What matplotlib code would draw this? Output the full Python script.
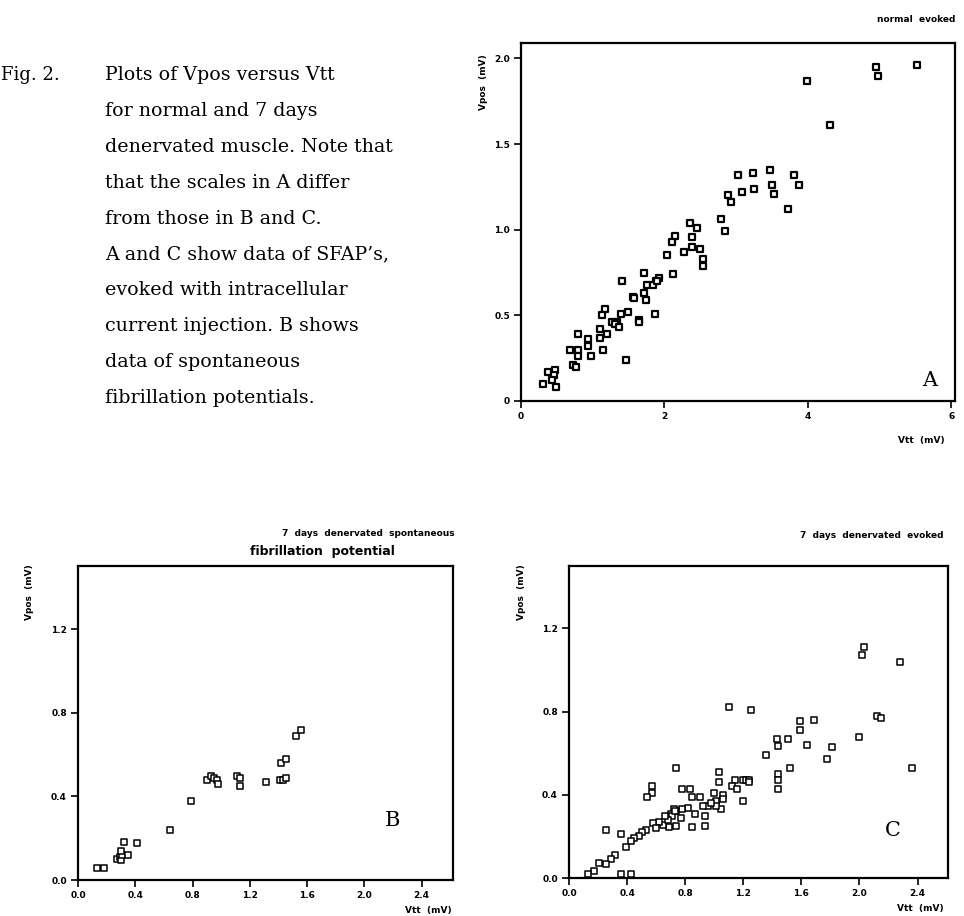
import matplotlib
matplotlib.use('Agg')
import matplotlib.pyplot as plt

# panel A: normal, evoked
vttA = [3.98, 4.31, 4.95, 4.97, 5.52, 3.03, 3.24, 3.47, 3.80, 3.88, 3.50, 3.52, 3.25, 3.08,
        2.88, 2.93, 3.72, 2.79, 2.85, 2.35, 2.45, 2.39, 2.15, 2.11, 2.39, 2.50, 2.04, 2.27,
        2.54, 2.54, 2.12, 1.71, 1.41, 1.76, 1.93, 1.88, 1.84, 1.56, 1.72, 1.74, 1.17, 1.13,
        1.40, 1.49, 1.87, 1.64, 1.65, 1.27, 1.34, 1.31, 1.37, 1.10, 1.20, 1.10, 1.14, 0.80,
        0.94, 0.93, 0.69, 0.79, 0.80, 0.97, 0.73, 0.76, 1.47, 0.38, 0.48, 0.46, 0.43, 0.30,
        0.49, 1.58, 1.90]
vposA = [1.87, 1.61, 1.95, 1.90, 1.96, 1.32, 1.33, 1.35, 1.32, 1.26, 1.26, 1.21, 1.24, 1.22,
         1.20, 1.16, 1.12, 1.06, 0.99, 1.04, 1.01, 0.96, 0.965, 0.93, 0.90, 0.89, 0.85, 0.87,
         0.83, 0.79, 0.74, 0.75, 0.70, 0.68, 0.72, 0.70, 0.68, 0.61, 0.63, 0.59, 0.54, 0.50,
         0.51, 0.52, 0.51, 0.47, 0.46, 0.46, 0.46, 0.45, 0.43, 0.42, 0.39, 0.37, 0.30, 0.39,
         0.36, 0.32, 0.30, 0.30, 0.26, 0.26, 0.21, 0.20, 0.24, 0.17, 0.18, 0.15, 0.12, 0.10,
         0.08, 0.60, 0.70]

# panel B: 7 days denervated, spontaneous fibrillation potential
vttB = [0.13, 0.18, 0.27, 0.29, 0.30, 0.31, 0.30, 0.32, 0.35, 0.41, 0.64, 0.79, 0.90, 0.93,
        0.95, 0.97, 0.98, 1.11, 1.13, 1.13, 1.31, 1.41, 1.43, 1.45, 1.42, 1.45, 1.52, 1.56]
vposB = [0.056, 0.059, 0.10, 0.11, 0.096, 0.12, 0.14, 0.18, 0.12, 0.176, 0.24, 0.38, 0.48, 0.50,
         0.49, 0.48, 0.46, 0.50, 0.49, 0.45, 0.47, 0.48, 0.48, 0.49, 0.56, 0.58, 0.69, 0.72]

# panel C: 7 days denervated, evoked
vttC = [2.03, 2.02, 2.28, 1.10, 1.25, 1.59, 1.69, 1.59, 2.12, 2.15, 2.00, 1.43, 1.51, 1.44,
        1.64, 1.81, 1.36, 1.78, 1.52, 2.36, 0.74, 1.03, 1.44, 1.44, 1.44, 1.03, 1.14, 1.20,
        1.22, 1.24, 1.12, 1.16, 1.20, 1.00, 1.06, 1.06, 1.05, 1.01, 1.01, 0.96, 0.92, 0.90,
        0.85, 0.83, 0.78, 0.87, 0.94, 0.94, 0.85, 0.82, 0.78, 0.74, 0.72, 0.70, 0.71, 0.73,
        0.77, 0.74, 0.69, 0.65, 0.62, 0.58, 0.60, 0.57, 0.57, 0.54, 0.53, 0.50, 0.48, 0.45,
        0.43, 0.39, 0.36, 0.255, 0.32, 0.29, 0.255, 0.21, 0.17, 0.13, 0.36, 0.43, 1.24, 0.68,
        0.66, 0.98]
vposC = [1.11, 1.07, 1.04, 0.82, 0.81, 0.755, 0.76, 0.71, 0.78, 0.77, 0.68, 0.67, 0.67, 0.635,
         0.64, 0.63, 0.59, 0.57, 0.53, 0.53, 0.53, 0.51, 0.50, 0.47, 0.43, 0.46, 0.47, 0.47,
         0.47, 0.47, 0.44, 0.43, 0.37, 0.41, 0.40, 0.38, 0.33, 0.37, 0.345, 0.345, 0.345, 0.39,
         0.39, 0.43, 0.43, 0.31, 0.30, 0.25, 0.245, 0.335, 0.33, 0.32, 0.33, 0.31, 0.30, 0.32,
         0.29, 0.25, 0.245, 0.255, 0.27, 0.265, 0.24, 0.44, 0.41, 0.39, 0.23, 0.22, 0.20, 0.19,
         0.18, 0.15, 0.21, 0.23, 0.11, 0.09, 0.067, 0.07, 0.035, 0.02, 0.02, 0.02, 0.46, 0.28,
         0.30, 0.36]

caption = ["Plots of Vpos versus Vtt",
           "for normal and 7 days",
           "denervated muscle. Note that",
           "that the scales in A differ",
           "from those in B and C.",
           "A and C show data of SFAP\u2019s,",
           "evoked with intracellular",
           "current injection. B shows",
           "data of spontaneous",
           "fibrillation potentials."]

W, H = 964, 916


def fx(px):
    return px / W


def fy(py):
    return 1 - py / H


def panel(fig, box, xs, ys, xlim, ylim, xt, xtl, yt, ytl, msize, mew):
    l, t, r, b = box
    ax = fig.add_axes([fx(l), fy(b), fx(r) - fx(l), fy(t) - fy(b)])
    ax.scatter(xs, ys, marker='s', s=msize, facecolors='white', edgecolors='black',
               linewidths=mew, zorder=3, clip_on=False)
    ax.set_xlim(xlim)
    ax.set_ylim(ylim)
    ax.set_xticks(xt)
    ax.set_xticklabels(xtl)
    ax.set_yticks(yt)
    ax.set_yticklabels(ytl)
    for s in ax.spines.values():
        s.set_linewidth(1.6)
    ax.tick_params(direction='out', length=5, width=1.2, labelsize=6.5, pad=3)
    for lab in ax.get_xticklabels() + ax.get_yticklabels():
        lab.set_fontweight('bold')
    return ax


fig = plt.figure(figsize=(W / 100, H / 100), dpi=100)

# caption text on the left
fig.text(fx(1), fy(75), "Fig. 2.", family='DejaVu Serif', fontsize=13, va='center')
for i, line in enumerate(caption):
    fig.text(fx(105), fy(75 + i * 35.9), line, family='DejaVu Serif', fontsize=13.7, va='center')

# A
axA = panel(fig, (521, 43, 955, 401), vttA, vposA, (0, 6.05), (0, 2.09),
            [0, 2, 4, 6], ['0', '2', '4', '6'],
            [0, 0.5, 1.0, 1.5, 2.0], ['0', '0.5', '1.0', '1.5', '2.0'], 22, 1.6)
fig.text(fx(955), fy(19), "normal  evoked", fontsize=6.5, fontweight='bold', ha='right', va='center')
fig.text(fx(483), fy(82), "Vpos  (mV)", fontsize=6.5, fontweight='bold', rotation=90,
         ha='center', va='center')
fig.text(fx(945), fy(441), "Vtt  (mV)", fontsize=6.5, fontweight='bold', ha='right', va='center')
fig.text(fx(930), fy(381), "A", family='DejaVu Serif', fontsize=15, ha='center', va='center')

# B
tk = [0.0, 0.4, 0.8, 1.2, 1.6, 2.0, 2.4]
tkl = ['0.0', '0.4', '0.8', '1.2', '1.6', '2.0', '2.4']
axB = panel(fig, (78, 566, 453, 880), vttB, vposB, (0, 2.62), (0, 1.504),
            tk, tkl, tk[:4], tkl[:4], 22, 1.1)
fig.text(fx(455), fy(533), "7  days  denervated  spontaneous", fontsize=6.5, fontweight='bold',
         ha='right', va='center')
fig.text(fx(322), fy(552), "fibrillation  potential", fontsize=9, fontweight='bold',
         ha='center', va='center')
fig.text(fx(30), fy(592), "Vpos  (mV)", fontsize=6.5, fontweight='bold', rotation=90,
         ha='center', va='center')
fig.text(fx(452), fy(910), "Vtt  (mV)", fontsize=6.5, fontweight='bold', ha='right', va='center')
fig.text(fx(393), fy(820), "B", family='DejaVu Serif', fontsize=15, ha='center', va='center')

# C
axC = panel(fig, (569, 566, 948, 878), vttC, vposC, (0, 2.61), (0, 1.50),
            tk, tkl, tk[:4], tkl[:4], 22, 1.1)
fig.text(fx(943), fy(535), "7  days  denervated  evoked", fontsize=6.5, fontweight='bold',
         ha='right', va='center')
fig.text(fx(522), fy(592), "Vpos  (mV)", fontsize=6.5, fontweight='bold', rotation=90,
         ha='center', va='center')
fig.text(fx(944), fy(908), "Vtt  (mV)", fontsize=6.5, fontweight='bold', ha='right', va='center')
fig.text(fx(893), fy(830), "C", family='DejaVu Serif', fontsize=15, ha='center', va='center')

fig.savefig('out.png', dpi=100)
